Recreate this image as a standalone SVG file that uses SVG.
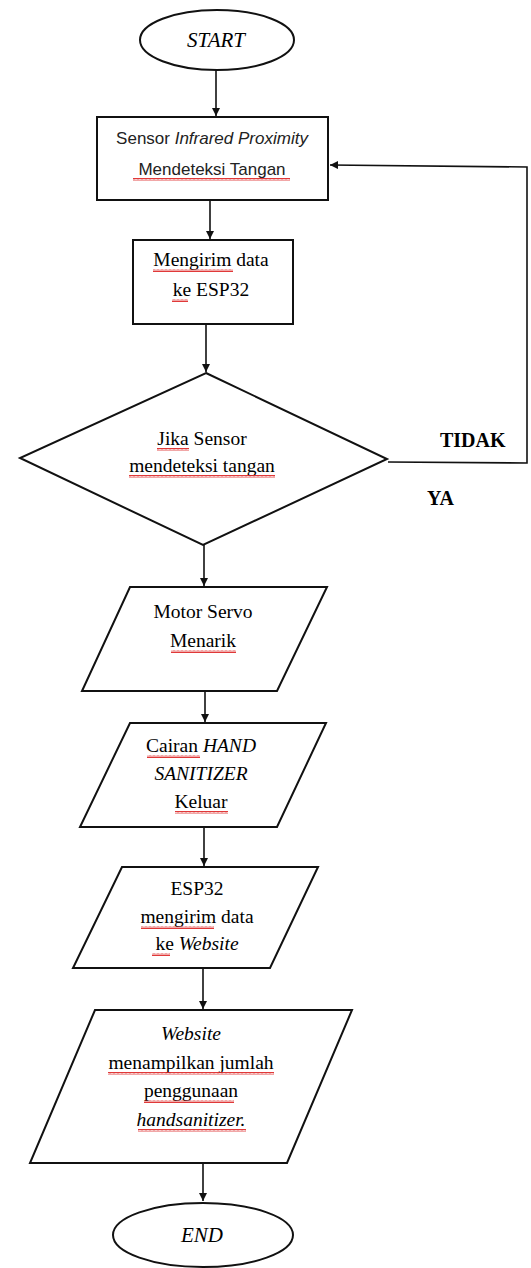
<svg xmlns="http://www.w3.org/2000/svg" width="531" height="1268" viewBox="0 0 531 1268">
<style>
.shape{fill:#fff;stroke:#111;stroke-width:2}
.conn{fill:none;stroke:#111;stroke-width:1.6;marker-end:url(#arr)}
.serif{font-family:"Liberation Serif","Times New Roman",serif;font-size:19.5px;fill:#000;text-anchor:middle}
.sans{font-family:"Liberation Sans",Arial,sans-serif;font-size:17px;fill:#222;text-anchor:middle}
.it{font-style:italic}
.bold{font-weight:bold;font-size:20px;text-anchor:start}
.sq{fill:url(#squig)}
</style>
<defs>
<marker id="arr" markerWidth="10" markerHeight="10" refX="8" refY="4" orient="auto" markerUnits="userSpaceOnUse">
<path d="M0,0 L8,4 L0,8 z" fill="#111"/>
</marker>
<pattern id="squig" width="4" height="3" patternUnits="userSpaceOnUse">
<path d="M0,2.5 L1,0.5 L2,2.5 L3,0.5 L4,2.5" fill="none" stroke="#d22" stroke-width="0.9"/>
</pattern>
</defs>

<g id="connectors">
<line class="conn" x1="216" y1="70" x2="216" y2="116"/>
<line class="conn" x1="210" y1="200" x2="210" y2="239"/>
<line class="conn" x1="206" y1="324" x2="206" y2="372"/>
<line class="conn" x1="204" y1="545" x2="204" y2="586"/>
<line class="conn" x1="205" y1="691" x2="205" y2="722"/>
<line class="conn" x1="204" y1="827" x2="204" y2="866"/>
<line class="conn" x1="203" y1="968" x2="203" y2="1009"/>
<line class="conn" x1="203" y1="1163" x2="203" y2="1201"/>
<polyline class="conn" points="388,462 527,463 527,167 330,165"/>
<text class="serif bold" x="440" y="447">TIDAK</text>
<text class="serif bold" x="427" y="505">YA</text>
</g>

<g id="start">
<ellipse class="shape" cx="217" cy="40" rx="77" ry="30"/>
<text class="serif it" x="216" y="47" style="font-size:21px">START</text>
</g>

<g id="sensor">
<rect class="shape" x="97" y="117" width="231" height="83"/>
<text class="sans" x="212" y="144">Sensor <tspan class="it">Infrared Proximity</tspan></text>
<text class="sans" x="212" y="175">Mendeteksi Tangan</text>
<rect class="sq" x="133" y="178" width="157" height="3"/>
</g>

<g id="kirim">
<rect class="shape" x="133" y="240" width="160" height="84"/>
<text class="serif" x="211" y="266">Mengirim data</text>
<text class="serif" x="211" y="296">ke ESP32</text>
<rect class="sq" x="153" y="269" width="80" height="3"/>
<rect class="sq" x="172" y="299" width="16" height="3"/>
</g>

<g id="decision">
<polygon class="shape" points="206,373 387,459 203,545 20,458"/>
<text class="serif" x="202" y="445">Jika Sensor</text>
<text class="serif" x="202" y="472">mendeteksi tangan</text>
<rect class="sq" x="157" y="448" width="32" height="3"/>
<rect class="sq" x="129" y="475" width="146" height="3"/>
</g>

<g id="servo">
<polygon class="shape" points="130,587 327,587 277,691 82,691"/>
<text class="serif" x="203" y="618">Motor Servo</text>
<text class="serif" x="203" y="647">Menarik</text>
<rect class="sq" x="171" y="650" width="65" height="3"/>
</g>

<g id="cairan">
<polygon class="shape" points="130,723 326,723 277,827 80,827"/>
<text class="serif" x="201" y="752">Cairan <tspan class="it">HAND</tspan></text>
<text class="serif it" x="201" y="780">SANITIZER</text>
<text class="serif" x="201" y="808">Keluar</text>
<rect class="sq" x="147" y="755" width="53" height="3"/>
<rect class="sq" x="175" y="811" width="53" height="3"/>
</g>

<g id="esp">
<polygon class="shape" points="122,867 318,867 270,968 73,968"/>
<text class="serif" x="197" y="895">ESP32</text>
<text class="serif" x="197" y="923">mengirim data</text>
<text class="serif" x="197" y="950">ke <tspan class="it">Website</tspan></text>
<rect class="sq" x="141" y="926" width="73" height="3"/>
<rect class="sq" x="152" y="953" width="18" height="3"/>
</g>

<g id="website">
<polygon class="shape" points="95,1010 352,1010 287,1163 30,1163"/>
<text class="serif it" x="191" y="1040">Website</text>
<text class="serif" x="191" y="1069">menampilkan jumlah</text>
<text class="serif" x="191" y="1097">penggunaan</text>
<text class="serif it" x="191" y="1126">handsanitizer.</text>
<rect class="sq" x="108" y="1072" width="166" height="3"/>
<rect class="sq" x="144" y="1100" width="90" height="3"/>
<rect class="sq" x="138" y="1129" width="108" height="3"/>
</g>

<g id="end">
<ellipse class="shape" cx="203" cy="1235" rx="90" ry="32"/>
<text class="serif it" x="202" y="1242" style="font-size:21px">END</text>
</g>
</svg>
